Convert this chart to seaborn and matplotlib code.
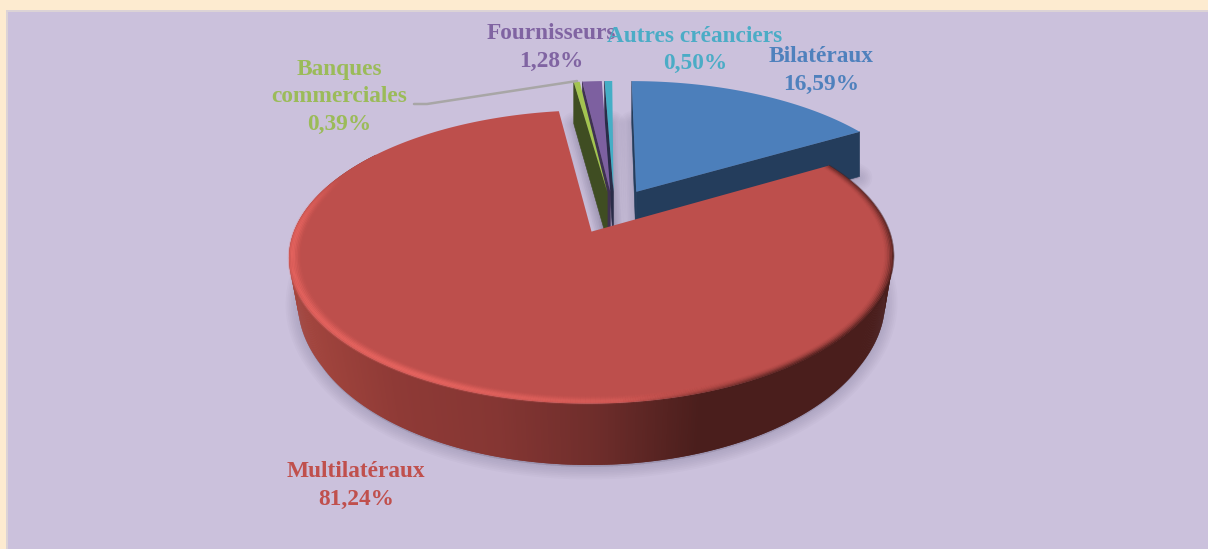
import numpy as np
import matplotlib
matplotlib.use("Agg")
import matplotlib.pyplot as plt
import seaborn as sns
from matplotlib.collections import LineCollection
from matplotlib.patches import Rectangle
from matplotlib.path import Path
from matplotlib.transforms import Affine2D, Transform

categories = ["Bilatéraux", "Multilatéraux", "Banques\ncommerciales", "Fournisseurs", "Autres créanciers"]
shares = [16.59, 81.24, 0.39, 1.28, 0.50]
explode = [0.235, 0.10, 0.205, 0.205, 0.205]
face_colors = ["#4c7fbb", "#bd4f4c", "#a3c450", "#7d60a0", "#45aec6"]
text_colors = ["#4f81bd", "#c0504d", "#9bbb59", "#8064a2", "#4bacc6"]
wall_colors = ["#243d5c", "#4a1e1c", "#3f4d22", "#3f3152", "#2a2c48"]
red_wall_ramp = ["#a5473f", "#8f3a36", "#853633", "#6e2d2b", "#4a1e1c", "#4a1e1c"]
label_pos = [(821, 55), (356, 470), (339, 68), (551, 32), (695, 36)]

sns.set_theme(style="white")
plt.rcParams["font.family"] = ["Liberation Serif", "DejaVu Serif"]

W, H = 1208, 549
CX, CY, A, B, P, DEPTH = 604.5, 219.0, 293.0, 138.0, 0.17, 50.0
BOTTOM_SHRINK = 0.022


class Tilt(Transform):
    input_dims = output_dims = 2
    is_separable = False
    has_inverse = False

    def transform_non_affine(self, xy):
        xy = np.asarray(xy, float)
        s = 1.0 / (1.0 + P * xy[:, 1])
        return np.column_stack((CX + A * xy[:, 0] * s, CY - B * xy[:, 1] * s))

    def transform_path_non_affine(self, path):
        polys = path.to_polygons(Affine2D().scale(3000), closed_only=True)
        return Path(self.transform_non_affine(polys[0] / 3000.0), closed=True)


def project(x, y, z=0.0):
    x, y = np.asarray(x, float), np.asarray(y, float)
    s = 1.0 / (1.0 + P * y)
    shrink = BOTTOM_SHRINK * z * np.clip(0.4 - y, 0, 1) / 0.5
    return CX + A * x * s * (1 - shrink), CY - B * y * s + DEPTH * z * s


fig = plt.figure(figsize=(W / 100, H / 100), dpi=100, facecolor="#fdebd0")
ax = fig.add_axes([0, 0, 1, 1])

wedges, _ = ax.pie(shares, explode=explode, startangle=90, counterclock=False,
                   colors=face_colors, wedgeprops={"linewidth": 0})
ax.set_aspect("auto")
ax.set_xlim(0, W)
ax.set_ylim(H, 0)
ax.set_frame_on(False)
ax.set_xticks([])
ax.set_yticks([])

ax.add_patch(Rectangle((6, 10), W - 6, H, fc="#dcd3d6", ec="none", zorder=0))
ax.add_patch(Rectangle((8, 12), W - 8, H, fc="#cbc1dc", ec="none", zorder=0.1))

tilt = Tilt()
# the three thin slices sit a little to the right of their radial direction
for w in wedges[2:]:
    cx0, cy0 = w.center
    w.set_center((cx0 + 0.035, cy0))
cx0, cy0 = wedges[0].center
wedges[0].set_center((cx0 - 0.005, cy0))

geo = []
for w in wedges:
    w.set_transform(tilt + ax.transData)
    w.set_clip_on(False)
    geo.append((w.center[0], w.center[1], w.theta1, w.theta2))


def rim(g, n=240):
    t = np.radians(np.linspace(g[2], g[3], n))
    return g[0] + np.cos(t), g[1] + np.sin(t), np.degrees(t)


# soft drop shadow from the bottom faces
for k in range(7, 0, -1):
    for g in geo:
        xr, yr, _ = rim(g)
        xs = np.r_[g[0], xr]
        ys = np.r_[g[1], yr]
        px, py = project(xs, ys, 1.03)
        ax.fill(px, py, fc="#5a5272", ec="#5a5272", alpha=0.03, lw=k * 2.6,
                joinstyle="round", zorder=1)


def cut_wall(g, theta, color, zo):
    t = np.radians(theta)
    xs = np.array([g[0], g[0] + np.cos(t)])
    ys = np.array([g[1], g[1] + np.sin(t)])
    x0, y0 = project(xs, ys, 0)
    x1, y1 = project(xs, ys, 1)
    ax.fill(np.r_[x0, x1[::-1]], np.r_[y0, y1[::-1]], fc=color, ec=color, lw=0.4, zorder=zo)


# blue slice walls
cut_wall(geo[0], geo[0][3], wall_colors[0], 2)
cut_wall(geo[0], geo[0][2], wall_colors[0], 2)
# thin slices: walls then tops
for i in (4, 3, 2):
    cut_wall(geo[i], geo[i][3], wall_colors[i], 3)
wedges[0].set_zorder(4)
for i in (4, 3, 2):
    wedges[i].set_zorder(5)

# red outer wall with a left-to-right shading ramp
g = geo[1]
ramp = sns.blend_palette(red_wall_ramp, n_colors=256)
xr, yr, td = rim(g, 720)
x0, y0 = project(xr, yr, 0)
x1, y1 = project(xr, yr, 1)
xmin, xmax = x0.min(), x0.max()
for i in range(len(xr) - 2):
    if np.sin(np.radians(td[i])) > 0.6:
        continue
    f = (0.5 * (x0[i] + x0[i + 1]) - xmin) / (xmax - xmin)
    f = np.clip(f / 0.85, 0, 1)
    c = ramp[int(f * 255)]
    ax.fill([x0[i], x0[i + 2], x1[i + 2], x1[i]], [y0[i], y0[i + 2], y1[i + 2], y1[i]],
            fc=c, ec="none", zorder=6)
wedges[1].set_zorder(7)

# bevel along the red rim
radii = [1.0, 0.995, 0.99, 0.985, 0.98, 0.975, 0.97, 0.965]
light_w = [0.3, 0.6, 0.8, 0.7, 0.5, 0.32, 0.18, 0.07]
dark_w = [0.95, 0.7, 0.45, 0.25, 0.12, 0.05, 0.0, 0.0]
t = np.linspace(g[2], g[3], 720)
t_rel = np.where(t > 90, t - 360, t)
light = np.interp(t_rel, [-262, -205, -180, -120, -85, -60], [0, 0.0, 1.0, 0.95, 0.35, 0.0])
dark = np.interp(t_rel, [-85, -50, -10, 31], [0.0, 0.85, 0.8, 0.35])
cl = np.array(matplotlib.colors.to_rgb("#ea6661"))
cd = np.array(matplotlib.colors.to_rgb("#4a1e1c"))
for r, lw_, dw_ in zip(radii, light_w, dark_w):
    xb = g[0] + r * np.cos(np.radians(t))
    yb = g[1] + r * np.sin(np.radians(t))
    bx, by = project(xb, yb, 0)
    pts = np.column_stack((bx, by)).reshape(-1, 1, 2)
    segs = np.concatenate((pts[:-1], pts[1:]), axis=1)
    rgba_l = np.column_stack((np.tile(cl, (len(segs), 1)), light[:-1] * lw_))
    rgba_d = np.column_stack((np.tile(cd, (len(segs), 1)), dark[:-1] * dw_))
    ax.add_collection(LineCollection(segs, colors=rgba_l, linewidths=1.6, zorder=8, capstyle="butt"))
    ax.add_collection(LineCollection(segs, colors=rgba_d, linewidths=1.6, zorder=8, capstyle="butt"))

# labels
FS = 16.8
for name, val, (x, y), col in zip(categories, shares, label_pos, text_colors):
    pct = f"{val:.2f}".replace(".", ",") + "%"
    if name.startswith("Autres"):
        ax.text(x, y + 1, name, color=col, fontsize=FS, fontweight="bold", ha="center", va="center", zorder=12)
        ax.text(x, y + 27, pct, color=col, fontsize=FS, fontweight="bold", ha="center", va="center", zorder=12)
    else:
        lines = name.split("\n") + [pct]
        for j, line in enumerate(lines):
            ax.text(x, y + 1.5 + j * 27.5, line, color=col, fontsize=FS, fontweight="bold",
                    ha="center", va="center", zorder=11)

# leader line for the commercial banks
ax.plot([414, 427, 577], [104, 104, 81], color="#a8a6a6", lw=1.8, zorder=9, solid_joinstyle="round")

fig.savefig("out.png", dpi=100, facecolor=fig.get_facecolor())
